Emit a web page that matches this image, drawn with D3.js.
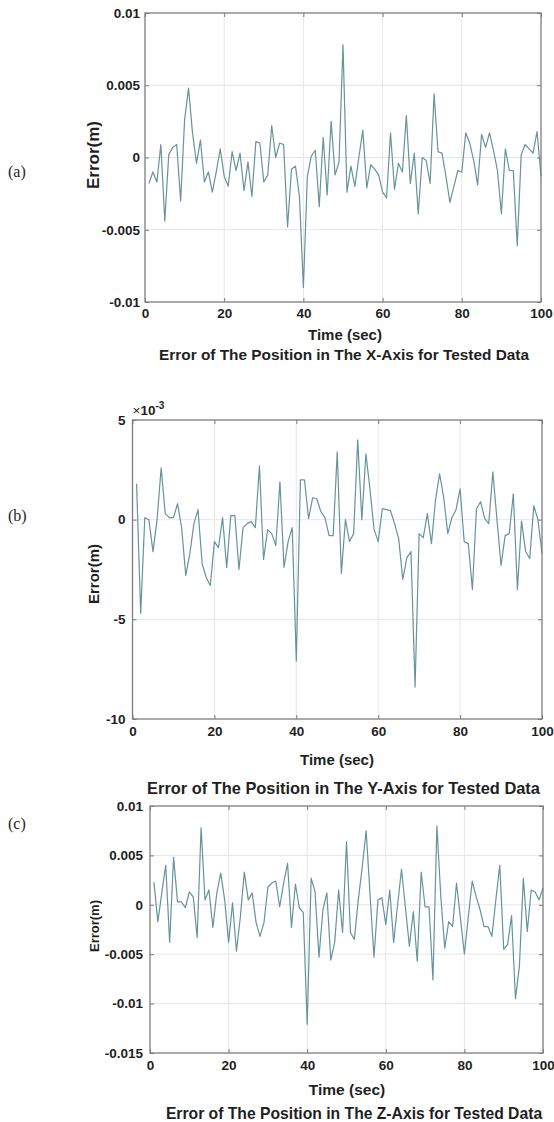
<!DOCTYPE html>
<html>
<head>
<meta charset="utf-8">
<script src="https://d3js.org/d3.v7.min.js"></script>
<title>Position error</title>
<style>
  body { margin: 0; background: #fff; }
  svg text { font-family: "Liberation Sans", Arial, sans-serif; font-weight: bold; fill: #1f1f1f; }
  .panel-tag { font-family: "Liberation Serif", "Times New Roman", serif; font-weight: normal; }
  .err-line { fill: none; stroke: #66939c; stroke-width: 1.2; stroke-linejoin: round; }
  .grid line { stroke: #e6e6e6; stroke-width: 1; }
  .tick line { stroke: #7a7a7a; }
</style>
</head>
<body>
<svg id="chart" width="554" height="1122"></svg>
<script>
// sample times (sec)
const time = [1,2,3,4,5,6,7,8,9,10,11,12,13,14,15,16,17,18,19,20,21,22,23,24,25,26,27,28,29,30,
  31,32,33,34,35,36,37,38,39,40,41,42,43,44,45,46,47,48,49,50,51,52,53,54,55,56,57,58,59,60,
  61,62,63,64,65,66,67,68,69,70,71,72,73,74,75,76,77,78,79,80,81,82,83,84,85,86,87,88,89,90,
  91,92,93,94,95,96,97,98,99,100];

// error in m
const errX = [-0.0018,-0.0010,-0.0017,0.0009,-0.0044,0.0002,0.0007,0.0009,-0.0030,0.0026,
  0.0048,0.0017,-0.0004,0.0012,-0.0017,-0.0010,-0.0024,-0.0010,0.0006,-0.0013,
  -0.0020,0.0004,-0.0009,0.0003,-0.0023,-0.0003,-0.0027,0.0011,0.0010,-0.0017,
  -0.0012,0.0022,0.0000,0.0010,0.0009,-0.0048,-0.0008,-0.0006,-0.0027,-0.0090,
  -0.0013,0.0001,0.0005,-0.0034,0.0014,-0.0026,0.0025,-0.0012,-0.0003,0.0078,
  -0.0024,-0.0006,-0.0020,0.0000,0.0019,-0.0021,-0.0005,-0.0008,-0.0012,-0.0024,
  -0.0028,0.0017,-0.0022,-0.0004,-0.0010,0.0029,-0.0018,0.0003,-0.0039,0.0000,
  -0.0002,-0.0018,0.0044,0.0004,0.0003,-0.0013,-0.0031,-0.0020,-0.0009,-0.0010,
  0.0017,0.0010,-0.0002,-0.0019,0.0016,0.0007,0.0017,0.0005,-0.0009,-0.0039,
  0.0006,-0.0009,-0.0009,-0.0061,0.0002,0.0009,0.0006,0.0003,0.0018,-0.0013];

const errY = [0.0018,-0.0047,0.0001,0.0000,-0.0016,0.0000,0.0026,0.0003,0.0001,0.0001,
  0.0008,-0.0004,-0.0028,-0.0017,-0.0002,0.0005,-0.0022,-0.0029,-0.0033,-0.0011,
  -0.0014,0.0001,-0.0024,0.0002,0.0002,-0.0025,-0.0004,-0.0002,-0.0001,-0.0004,
  0.0027,-0.0020,-0.0005,-0.0007,-0.0013,0.0019,-0.0024,-0.0011,-0.0004,-0.0071,
  0.0020,0.0020,0.00005,0.0011,0.00105,0.0004,0.0001,-0.0008,-0.0008,0.0034,
  -0.0027,0.0000,-0.0011,-0.0007,0.0040,0.0000,0.0033,0.0015,-0.0005,-0.0011,
  0.00055,0.0005,0.00045,-0.0002,-0.00095,-0.0030,-0.0019,-0.0016,-0.0084,-0.0007,
  -0.0009,0.0003,-0.0012,0.0010,0.0023,0.0011,-0.0007,0.0001,0.0005,0.00155,
  -0.0011,-0.0012,-0.0035,0.00055,0.0009,0.00005,-0.0002,0.0024,0.0000,-0.0023,
  -0.0008,-0.0007,0.0013,-0.0035,-0.00007,-0.0016,-0.00195,0.0007,0.0000,-0.0017];

const errZ = [0.0023,-0.0017,0.0012,0.0040,-0.0038,0.0048,0.0003,0.0003,-0.0003,0.0013,
  0.0008,-0.0033,0.0078,0.0005,0.0015,-0.0023,0.0012,0.0032,0.0005,-0.0038,
  0.0002,-0.0047,-0.0012,0.0033,0.0005,0.0012,-0.0018,-0.0032,-0.0018,0.0018,
  0.0022,0.0024,-0.0002,0.0022,0.0042,-0.0023,0.0021,-0.0003,-0.0008,-0.0121,
  0.0027,0.0013,-0.0053,-0.0005,0.0012,-0.0056,-0.0038,0.0015,-0.0028,0.0064,
  -0.0028,-0.0035,0.0005,0.0038,0.0075,0.0010,-0.0053,0.0005,0.0007,-0.0020,
  0.0015,-0.0038,0.0000,0.0036,-0.0003,-0.0042,-0.0007,-0.0057,0.0033,-0.0002,
  -0.0002,-0.0076,0.0080,0.0008,-0.0044,-0.0017,-0.0022,0.0022,-0.0014,-0.0050,
  -0.0012,0.0024,0.0008,-0.0005,-0.0022,-0.0022,-0.0032,0.0005,0.0040,-0.0045,
  -0.0040,-0.0011,-0.0095,-0.0062,0.0027,-0.0027,0.0015,0.0013,0.0005,0.0017];

const xTicks = [0, 20, 40, 60, 80, 100];
const yTicksA = [-0.01, -0.005, 0, 0.005, 0.01];
const yTickLabelsA = ["-0.01", "-0.005", "0", "0.005", "0.01"];
const yTicksB = [-0.01, -0.005, 0, 0.005];
const yTickLabelsB = ["-10", "-5", "0", "5"];
const yTicksC = [-0.015, -0.01, -0.005, 0, 0.005, 0.01];
const yTickLabelsC = ["-0.015", "-0.01", "-0.005", "0", "0.005", "0.01"];
const titles = [
  "Error of The Position in The X-Axis for Tested Data",
  "Error of The Position in The Y-Axis for Tested Data",
  "Error of The Position in The Z-Axis for Tested Data"
];

const svg = d3.select("#chart");

// layout of the three stacked panels
const panels = [
  { tag: "(a)", tagY: 177, data: errX, l: 145, r: 541, t: 13, b: 302,
    yDomain: [-0.01, 0.01], yTicks: yTicksA, yLabels: yTickLabelsA, title: titles[0],
    tickPad: 6, yPad: 5, ylabY: 155, ylabSize: 17, xlabY: 340, xlabX: 345, xlabSize: 15,
    titleY: 360, titleX: 344, titleSize: 15.4 },
  { tag: "(b)", tagY: 521, data: errY, l: 132.5, r: 542, t: 420, b: 719,
    yDomain: [-0.01, 0.005], yTicks: yTicksB, yLabels: yTickLabelsB, title: titles[1],
    tickPad: 7, yPad: 7, ylabY: 574, ylabSize: 15, xlabY: 765, xlabX: 337, xlabSize: 15,
    titleY: 794, titleX: 343.5, titleSize: 16.4, expo: true },
  { tag: "(c)", tagY: 829, data: errZ, l: 150, r: 543, t: 806, b: 1053,
    yDomain: [-0.015, 0.01], yTicks: yTicksC, yLabels: yTickLabelsC, title: titles[2],
    tickPad: 7, yPad: 7, ylabY: 926, ylabSize: 13, xlabY: 1095, xlabX: 347, xlabSize: 15.5,
    titleY: 1119, titleX: 354, titleSize: 15.7 }
];

panels.forEach(p => {
  const x = d3.scaleLinear().domain([0, 100]).range([p.l, p.r]);
  const y = d3.scaleLinear().domain(p.yDomain).range([p.b, p.t]);
  const g = svg.append("g");

  // grid
  const grid = g.append("g").attr("class", "grid");
  grid.selectAll(".gx").data(xTicks.slice(1, -1)).join("line")
    .attr("x1", d => x(d)).attr("x2", d => x(d)).attr("y1", p.t).attr("y2", p.b);
  grid.selectAll(".gy").data(p.yTicks.slice(1, -1)).join("line")
    .attr("x1", p.l).attr("x2", p.r).attr("y1", d => y(d)).attr("y2", d => y(d));

  // the error trace
  g.append("path")
    .datum(time.map((t, i) => [t, p.data[i]]))
    .attr("class", "err-line")
    .attr("d", d3.line().x(d => x(d[0])).y(d => y(d[1])));

  // axes, ticks pointing inward like matlab
  const fmtY = d => p.yLabels[p.yTicks.indexOf(d)];
  const axB = g.append("g").attr("transform", `translate(0,${p.b})`)
    .call(d3.axisBottom(x).tickValues(xTicks).tickSize(-4).tickPadding(p.tickPad));
  const axL = g.append("g").attr("transform", `translate(${p.l},0)`)
    .call(d3.axisLeft(y).tickValues(p.yTicks).tickSize(-4).tickPadding(p.yPad).tickFormat(fmtY));
  g.append("g").attr("transform", `translate(0,${p.t})`)
    .call(d3.axisTop(x).tickValues(xTicks).tickSize(-4).tickFormat(""));
  g.append("g").attr("transform", `translate(${p.r},0)`)
    .call(d3.axisRight(y).tickValues(p.yTicks).tickSize(-4).tickFormat(""));
  g.selectAll(".domain").remove();
  [axB, axL].forEach(a => a.attr("font-family", null).attr("font-size", null)
    .selectAll("text").style("font-size", "13.5px").attr("fill", "#1f1f1f"));

  // box
  g.append("rect")
    .attr("x", p.l).attr("y", p.t).attr("width", p.r - p.l).attr("height", p.b - p.t)
    .attr("fill", "none").attr("stroke", "#7d7d7d").attr("stroke-width", 1.3);

  if (p.expo) {
    const e = g.append("text").attr("x", p.l).attr("y", p.t - 5).style("font-size", "13.5px");
    e.append("tspan").style("font-weight", "normal").text("×");
    e.append("tspan").text("10");
    e.append("tspan").attr("dy", -6).style("font-size", "10px").text("-3");
  }

  g.append("text")
    .attr("transform", `translate(99,${p.ylabY}) rotate(-90)`)
    .attr("text-anchor", "middle")
    .style("font-size", p.ylabSize + "px")
    .text("Error(m)");

  g.append("text")
    .attr("x", p.xlabX).attr("y", p.xlabY).attr("text-anchor", "middle")
    .style("font-size", p.xlabSize + "px")
    .text("Time (sec)");

  g.append("text")
    .attr("x", p.titleX).attr("y", p.titleY).attr("text-anchor", "middle")
    .style("font-size", p.titleSize + "px")
    .text(p.title);

  g.append("text").attr("class", "panel-tag")
    .attr("x", 8).attr("y", p.tagY)
    .style("font-size", "16px")
    .text(p.tag);
});
</script>
</body>
</html>
